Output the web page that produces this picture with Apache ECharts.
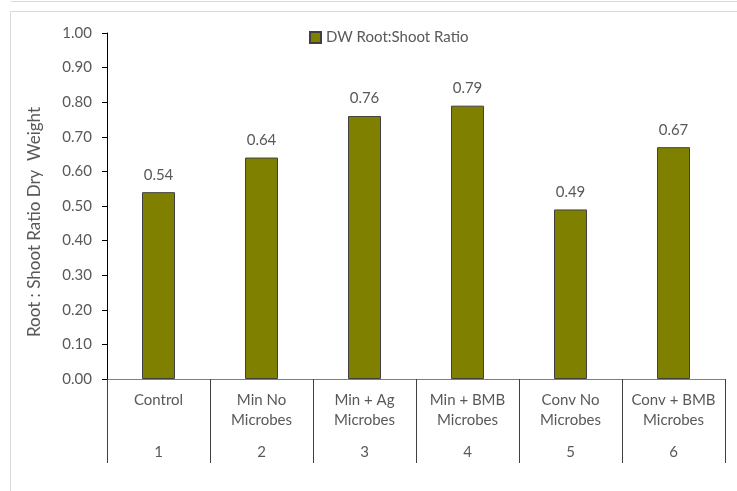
<!DOCTYPE html>
<html>
<head>
<meta charset="utf-8">
<script src="https://cdn.jsdelivr.net/npm/echarts@6/dist/echarts.min.js"></script>
<style>
  html, body { margin: 0; padding: 0; background: #fff; }
  #chart { width: 737px; height: 491px; }
</style>
</head>
<body>
<div id="chart"></div>
<script>
// Treatment groups (upper label row) and their numbers (lower label row)
const categories = ['Control', 'Min No\nMicrobes', 'Min + Ag\nMicrobes', 'Min + BMB\nMicrobes', 'Conv No\nMicrobes', 'Conv + BMB\nMicrobes'];
const groupNumbers = ['1', '2', '3', '4', '5', '6'];
// Root:shoot ratio on a dry weight basis
const ratioValues = [0.54, 0.64, 0.76, 0.79, 0.49, 0.67];
const seriesName = 'DW Root:Shoot Ratio';
const yTitle = 'Root : Shoot Ratio Dry  Weight';

const FONT = 'Lato, "Open Sans", sans-serif';
const TEXT = '#595959';
const FS = 15;

const chart = echarts.init(document.getElementById('chart'), null, { renderer: 'canvas' });

chart.setOption({
  animation: false,
  backgroundColor: '#fff',
  textStyle: { fontFamily: FONT },
  graphic: [
    { type: 'rect', shape: { x: 10.5, y: 11.5, width: 800, height: 600 }, style: { fill: 'none', stroke: '#d9d9d9', lineWidth: 1 }, silent: true },
    { type: 'line', shape: { x1: 11, y1: 1.5, x2: 737, y2: 1.5 }, style: { stroke: '#d9d9d9', lineWidth: 1 }, silent: true },
    // vertical value-axis title
    {
      type: 'text', x: 35, y: 222, rotation: Math.PI / 2, silent: true,
      style: { text: yTitle, fontFamily: FONT, fontSize: 17, fill: TEXT, align: 'center', verticalAlign: 'middle' }
    }
  ],
  legend: {
    data: [seriesName],
    left: 304,
    top: 25,
    itemWidth: 11,
    itemHeight: 11,
    itemGap: 5,
    textStyle: { fontFamily: FONT, fontSize: FS, color: TEXT },
    icon: 'rect'
  },
  grid: { left: 107, right: 12, top: 33, bottom: 112, containLabel: false },
  xAxis: [
    {
      type: 'category',
      data: categories,
      position: 'bottom',
      axisLine: { show: true, lineStyle: { color: '#7f7f7f', width: 1 } },
      axisTick: { show: true, interval: 0, length: 84, lineStyle: { color: '#404040', width: 1 } },
      axisLabel: { interval: 0, margin: 11, fontFamily: FONT, fontSize: FS, color: TEXT, lineHeight: 20 }
    },
    {
      type: 'category',
      data: groupNumbers,
      position: 'bottom',
      axisLine: { show: false },
      axisTick: { show: false },
      axisLabel: { interval: 0, margin: 66, fontFamily: FONT, fontSize: FS, color: TEXT }
    }
  ],
  yAxis: {
    type: 'value',
    min: 0,
    max: 1,
    interval: 0.1,
    axisLine: { show: true, lineStyle: { color: '#000', width: 1 } },
    axisTick: { show: true, length: 5, lineStyle: { color: '#000' } },
    splitLine: { show: false },
    axisLabel: { margin: 15, fontFamily: FONT, fontSize: FS, color: TEXT, formatter: v => v.toFixed(2) }
  },
  series: [
    {
      name: seriesName,
      type: 'bar',
      xAxisIndex: 0,
      data: ratioValues,
      barWidth: 33,
      itemStyle: { color: '#808000', borderColor: '#404040', borderWidth: 1 },
      label: {
        show: true,
        position: 'top',
        distance: 10,
        fontFamily: FONT,
        fontSize: FS,
        color: TEXT,
        formatter: p => p.value.toFixed(2)
      }
    }
  ]
});
</script>
</body>
</html>
